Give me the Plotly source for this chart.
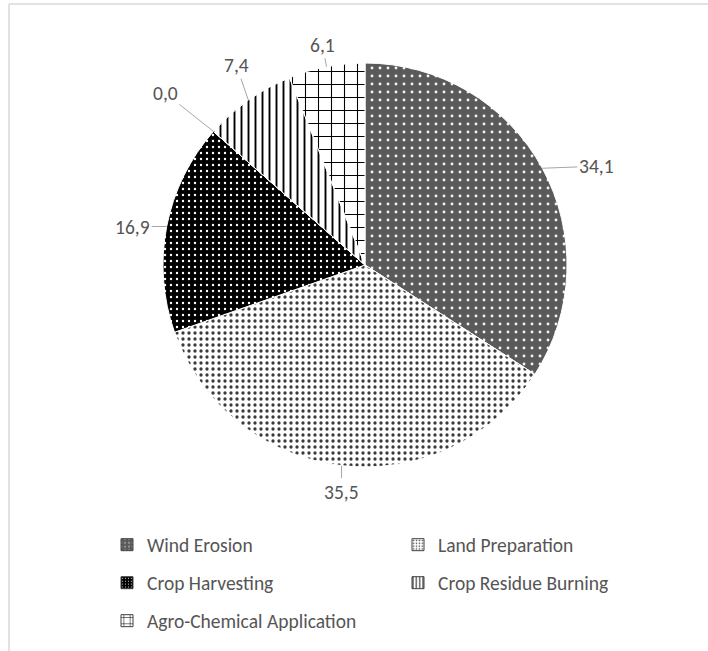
import plotly.graph_objects as go
import math

# ---------------- data ----------------
categories = ["Wind Erosion", "Land Preparation", "Crop Harvesting", "Other",
              "Crop Residue Burning", "Agro-Chemical Application"]
values = [34.1, 35.5, 16.9, 0.0, 7.4, 6.1]
legend_rows = [["Wind Erosion", "Land Preparation"],
               ["Crop Harvesting", "Crop Residue Burning"],
               ["Agro-Chemical Application"]]

# ---------------- style ----------------
W, H = 708, 651
cx, cy, R = 365, 265, 202          # pie centre / radius in pixels
FONT = "Carlito, Lato, sans-serif"
TXT = "#555555"

styles = {
    "Wind Erosion":              dict(shape=".", bg="#5a5a5a", fg="#f4f4f4", size=8, sol=0.1),
    "Land Preparation":          dict(shape=".", bg="#ffffff", fg="#3a3a3a", size=6, sol=0.24),
    "Crop Harvesting":           dict(shape=".", bg="#000000", fg="#ffffff", size=6, sol=0.12),
    "Other":                     dict(shape="", bg="#ffffff", fg="#000000", size=8, sol=0.2),
    "Crop Residue Burning":      dict(shape="|", bg="#ffffff", fg="#000000", size=7, sol=0.27),
    "Agro-Chemical Application": dict(shape="+", bg="#ffffff", fg="#000000", size=13, sol=0.16),
}
# label offsets (px) from the slice's outer mid-point
label_offsets = [(54, -2), (0, 26), (-34, 0), (-48, -38), (-12, -35), (-4, -22)]

fig = go.Figure()

fig.add_trace(go.Pie(
    labels=categories, values=values, sort=False, direction="clockwise", rotation=0,
    textinfo="none", hoverinfo="label+value", showlegend=False,
    domain=dict(x=[(cx - R) / W, (cx + R) / W], y=[1 - (cy + R) / H, 1 - (cy - R) / H]),
    marker=dict(
        colors=[styles[c]["bg"] for c in categories],
        line=dict(color="#ffffff", width=1),
        pattern=dict(
            shape=[styles[c]["shape"] for c in categories],
            bgcolor=[styles[c]["bg"] for c in categories],
            fgcolor=[styles[c]["fg"] for c in categories],
            size=[styles[c]["size"] for c in categories],
            solidity=[styles[c]["sol"] for c in categories],
            fillmode="replace",
        ),
    ),
))

# legend entries (dummy bars, one legend per row)
legend_names = ["legend", "legend2", "legend3"]
for li, row in enumerate(legend_rows):
    for name in row:
        s = styles[name]
        fig.add_trace(go.Bar(
            x=[0], y=[0], name=name, legend=legend_names[li], hoverinfo="skip",
            marker=dict(color=s["bg"], line=dict(color="#404040", width=1),
                        pattern=dict(shape=s["shape"], bgcolor=s["bg"], fgcolor=s["fg"],
                                     size=s["size"] * 0.6, solidity=s["sol"], fillmode="replace")),
        ))

# data labels with leader lines
annotations = []
total = sum(values)
cum = 0.0
for v, (dx, dy) in zip(values, label_offsets):
    theta = 2 * math.pi * (cum + v / 2) / total
    cum += v
    ex = cx + R * math.sin(theta)
    ey = cy - R * math.cos(theta)
    annotations.append(dict(
        x=ex / W, y=1 - ey / H, xref="paper", yref="paper",
        text=f"{v:.1f}".replace(".", ","), showarrow=True, arrowhead=0, arrowwidth=1,
        arrowcolor="#a6a6a6", ax=dx, ay=dy, standoff=0,
        font=dict(family=FONT, size=19.5, color=TXT),
    ))

row_y = [545, 583, 621]
leg_common = dict(orientation="h", xanchor="left", yanchor="middle", x=107 / W,
                  entrywidth=246, entrywidthmode="pixels", bgcolor="rgba(0,0,0,0)",
                  font=dict(family=FONT, size=19.5, color=TXT), itemclick=False,
                  itemdoubleclick=False)

fig.update_layout(
    width=W, height=H, margin=dict(l=0, r=0, t=0, b=0),
    paper_bgcolor="white", plot_bgcolor="white",
    xaxis=dict(visible=False, range=[10, 11], fixedrange=True),
    yaxis=dict(visible=False, range=[10, 11], fixedrange=True),
    legend=dict(y=1 - row_y[0] / H, **leg_common),
    legend2=dict(y=1 - row_y[1] / H, **leg_common),
    legend3=dict(y=1 - row_y[2] / H, **leg_common),
    annotations=annotations,
    shapes=[
        dict(type="line", xref="paper", yref="paper", x0=9 / W, x1=1, y0=1 - 4 / H, y1=1 - 4 / H,
             line=dict(color="#d9d9d9", width=1.5)),
        dict(type="line", xref="paper", yref="paper", x0=9 / W, x1=9 / W, y0=1 - 4 / H, y1=0,
             line=dict(color="#d9d9d9", width=1.5)),
    ],
)

fig.write_html("out.html")
